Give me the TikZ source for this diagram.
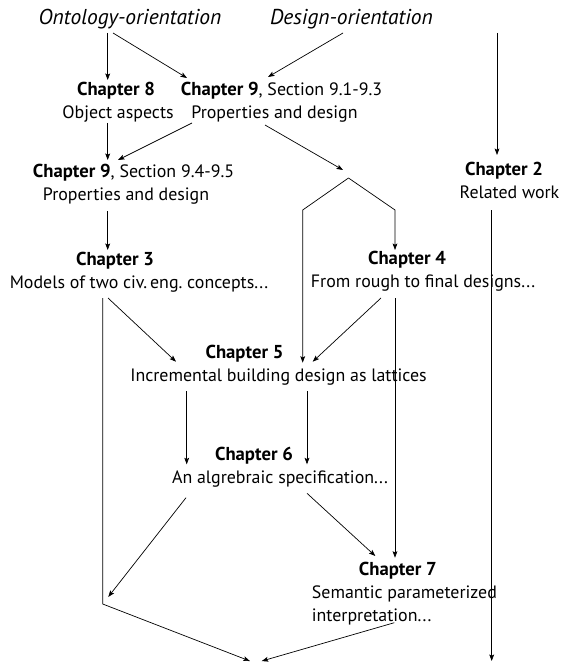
\documentclass[tikz,border=0pt]{standalone}
\usepackage{fontspec}
\setmainfont{PT Sans}
\usetikzlibrary{arrows.meta,calc}
% bold chapter heading, set a little larger than the body text
\newcommand\chaphead[1]{{\fontsize{18.7}{23}\selectfont\bfseries #1}}
\begin{document}
\begin{tikzpicture}[x=1pt,y=-1pt,
  chap/.style={align=center,inner sep=0pt,font=\fontsize{17.9}{23}\selectfont},
  orient/.style={inner sep=0pt,font=\fontsize{21.5}{23}\selectfont\itshape},
  plain/.style={line width=0.7pt},
  link/.style={plain,-{Stealth[length=6.5pt,width=4.8pt,inset=1.3pt]}}]
\useasboundingbox (0,0) rectangle (562,663);

% starting points of the two reading orders
\node[orient] (onto) at (130,19) {Ontology-orientation};
\node[orient] (desg) at (351.5,19) {Design-orientation};

% chapters
\node[chap] (ch8) at (118,102) {\chaphead{Chapter 8}\hspace*{4pt}\\Object aspects};
\node[chap] (ch9a) at (274.5,102) {\hspace*{14pt}\chaphead{Chapter 9}, Section 9.1-9.3\\Properties and design};
\node[chap] (ch9b) at (126,184) {\hspace*{15pt}\chaphead{Chapter 9}, Section 9.4-9.5\\Properties and design};
\node[chap] (ch2) at (509.5,180) {\chaphead{Chapter 2}\hspace*{11pt}\\Related work};
\node[chap] (ch3) at (139,272) {\chaphead{Chapter 3}\hspace*{48pt}\\Models of two civ.\,eng.\ concepts...};
\node[chap] (ch4) at (423,271.5) {\chaphead{Chapter 4}\hspace*{32pt}\\From rough to final designs...};
\node[chap] (ch5) at (278.5,365) {\chaphead{Chapter 5}\hspace*{68pt}\\Incremental building design as lattices};
\node[chap] (ch6) at (280,467) {\chaphead{Chapter 6}\hspace*{52pt}\\An algrebraic specification...};
\node[chap,align=left,anchor=west] (ch7) at (311.7,593.3) {\hspace*{47pt}\chaphead{Chapter 7}\\Semantic parameterized\\interpretation...};

% free ends and bend points
\coordinate (relsrc) at (497,33);
\coordinate (relend) at (491.7,661);
\coordinate (split) at (348.5,178);
\coordinate (join) at (102.7,604);
\coordinate (sink) at (255,663);

% connectors
\draw[link] ([shift={(-22.3,14)}]onto.center) -- ([shift={(-10.3,-22)}]ch8.center);
\draw[link] ([shift={(-17,14)}]onto.center) -- ([shift={(-87.5,-24)}]ch9a.center);
\draw[link] ([shift={(-8.5,14)}]desg.center) -- ([shift={(-6.5,-25)}]ch9a.center);
\draw[link] (relsrc) -- ([shift={(-12.5,-25)}]ch2.center);
\draw[link] ([shift={(-10.3,21)}]ch8.center) -- ([shift={(-18.3,-24)}]ch9b.center);
\draw[link] ([shift={(-82.5,21)}]ch9a.center) -- ([shift={(-8,-24)}]ch9b.center);
\draw[link] ([shift={(-9.5,23)}]ch9a.center) -- ([shift={(-5.5,-8)}]split);
\draw[link] (split) -- ++(-45.8,32) -- ([shift={(24.2,-2.3)}]ch5.center);
\draw[link] (split) -- ++(46.5,32) -- ([shift={(-28,-21.5)}]ch4.center);
\draw[link] ([shift={(-17.8,30)}]ch2.center) -- (relend);
\draw[link] ([shift={(-18.3,27)}]ch9b.center) -- ([shift={(-31.3,-22)}]ch3.center);
\draw[link] ([shift={(-31,26)}]ch3.center) -- ([shift={(-102.5,-3.3)}]ch5.center);
\draw[link,shorten >=5.5pt] ([shift={(-36.3,26)}]ch3.center) -- (join) -- (sink);
\draw[link] ([shift={(-42,26.5)}]ch4.center) -- ([shift={(34.2,-3.3)}]ch5.center);
\draw[link] ([shift={(-28,26.5)}]ch4.center) -- ([shift={(83.3,-35.6)}]ch7.west);
\draw[link] ([shift={(-91.8,26)}]ch5.center) -- ([shift={(-93.3,-2.7)}]ch6.center);
\draw[link] ([shift={(28.5,26)}]ch5.center) -- ([shift={(27,-2.7)}]ch6.center);
\draw[link,shorten >=9pt] ([shift={(-94,30.7)}]ch6.center) -- (join);
\draw[link] ([shift={(27,26.3)}]ch6.center) -- ([shift={(63.6,-37.3)}]ch7.west);
\draw[link,shorten >=7pt] ([shift={(82.6,29.4)}]ch7.west) -- (sink);
\end{tikzpicture}
\end{document}
